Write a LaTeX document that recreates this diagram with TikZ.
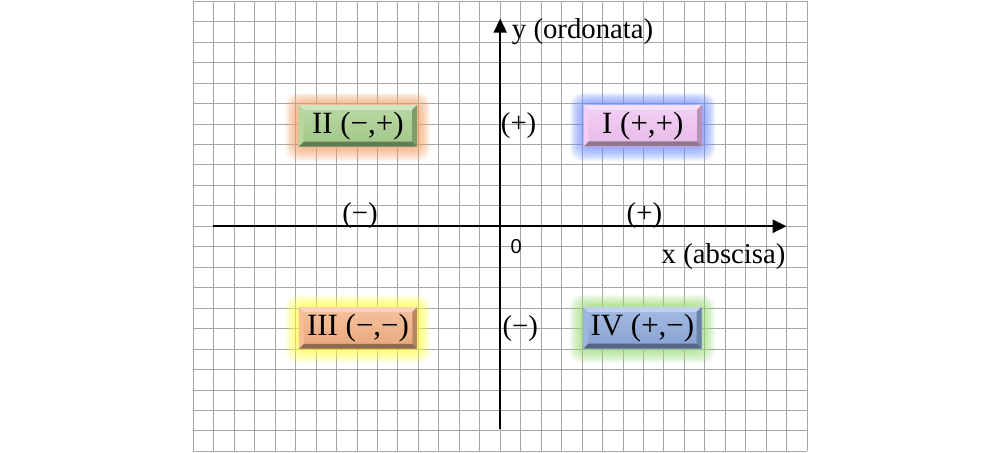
\documentclass[tikz,border=0pt]{standalone}
\usepackage{fontspec}
\setmainfont{Liberation Serif}
\newfontfamily\zerofont{Liberation Sans}
\usetikzlibrary{arrows.meta,calc}
\definecolor{gridc}{HTML}{A6A6A6}
\definecolor{faceII}{HTML}{A9D08E}
\definecolor{glowII}{HTML}{F7A064}
\definecolor{faceI}{HTML}{F2C4F2}
\definecolor{glowI}{HTML}{6A8CFF}
\definecolor{faceIII}{HTML}{F4B183}
\definecolor{glowIII}{HTML}{FFFF40}
\definecolor{faceIV}{HTML}{8EAADB}
\definecolor{glowIV}{HTML}{98DC70}
\newcommand\quadbox[5]{%
  \begin{scope}[shift={#2}]
    \foreach \k in {1,...,12}{
      \fill[#4, opacity=0.09, rounded corners=8pt]
        (-2.88-\k*0.055,-1-\k*0.06) rectangle (2.88+\k*0.055,1+\k*0.05);
    }
    \node[boxtext, top color=#3!80!white, bottom color=#3!95!black] (#1) at (0,0) {#5};
    \fill[#3!55!white] (#1.north west) -- (#1.north east) -- ($(#1.north east)+(-0.24,-0.24)$) -- ($(#1.north west)+(0.24,-0.24)$) -- cycle;
    \fill[#3!60!black] (#1.south west) -- (#1.south east) -- ($(#1.south east)+(-0.24,0.24)$) -- ($(#1.south west)+(0.24,0.24)$) -- cycle;
    \fill[#3!85!white] (#1.north west) -- (#1.south west) -- ($(#1.south west)+(0.24,0.24)$) -- ($(#1.north west)+(0.24,-0.24)$) -- cycle;
    \fill[#3!75!black] (#1.north east) -- (#1.south east) -- ($(#1.south east)+(-0.24,0.24)$) -- ($(#1.north east)+(-0.24,-0.24)$) -- cycle;
  \end{scope}
}
\begin{document}
\begin{tikzpicture}[x=0.5cm,y=0.5cm,
  gridline/.style={draw=gridc, line width=0.6pt},
  axisline/.style={line width=1.6pt, -{Triangle[length=9.7pt,width=9pt]}},
  lab/.style={font=\fontsize{20}{24}\selectfont, inner sep=0pt},
  boxtext/.style={font=\fontsize{21.5}{25}\selectfont, inner sep=0pt, minimum width=2.88cm, minimum height=1cm},
]
\useasboundingbox (-24.45,-11.04) rectangle (24.43,11.06);
\fill[white] (-24.45,-11.04) rectangle (24.43,11.06);
\draw[gridline, step=0.5cm] (-15,-11) grid (15,11);

\quadbox{qII}{(-6.96,4.91)}{faceII}{glowII}{II (−,+)}
\quadbox{qI}{(6.97,4.92)}{faceI}{glowI}{I (+,+)}
\quadbox{qIII}{(-6.95,-4.97)}{faceIII}{glowIII}{III (−,−)}
\quadbox{qIV}{(6.95,-4.96)}{faceIV}{glowIV}{IV (+,−)}

\coordinate (xs) at (-14.05,0);
\coordinate (xe) at (14,0);
\coordinate (ys) at (0,-9.9);
\coordinate (ye) at (0,10.15);
\draw[axisline] (xs) -- (xe);
\draw[axisline] (ys) -- (ye);

\node[lab, anchor=west] (ylab) at (0.56,9.5) {y (ordonata)};
\node[lab, anchor=east] (xlab) at (13.96,-1.48) {x (abscisa)};
\node[lab] (yplus) at (0.9,4.9) {(+)};
\node[lab] (yminus) at (0.98,-5.0) {(−)};
\node[lab] (xminus) at (-6.85,0.52) {(−)};
\node[lab] (xplus) at (7.05,0.52) {(+)};
\node[font=\zerofont\fontsize{14}{16}\selectfont, inner sep=0pt] (orig) at (0.78,-1.0) {0};
\end{tikzpicture}
\end{document}
